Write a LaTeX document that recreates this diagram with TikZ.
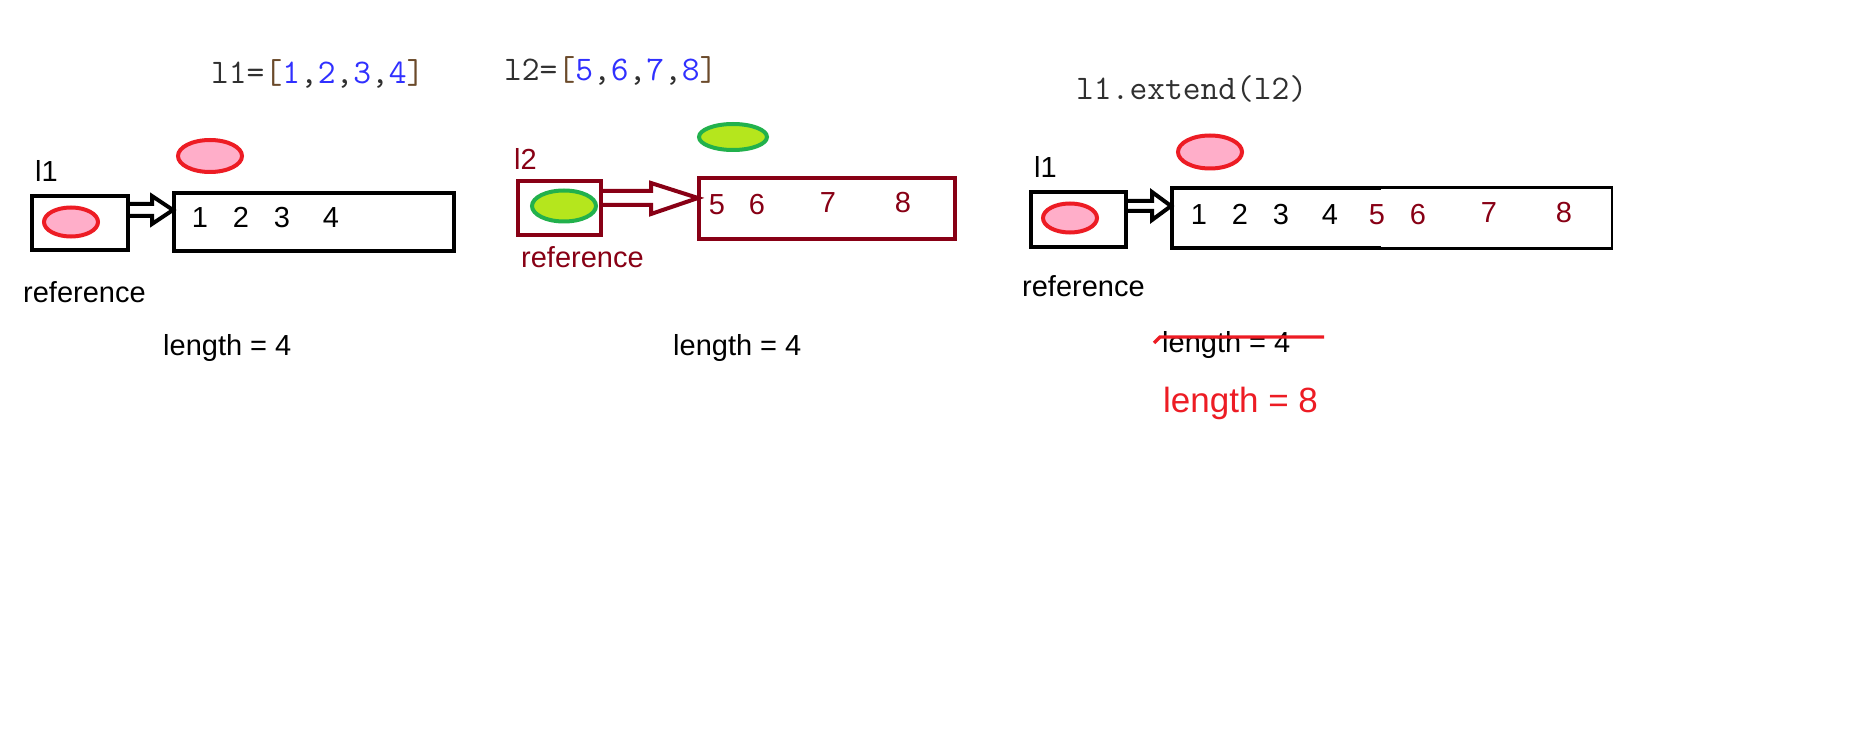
\documentclass[tikz,border=0pt]{standalone}
\usepackage{fontspec}
\setmainfont{Liberation Sans}
\usetikzlibrary{shapes.geometric}
\definecolor{dred}{HTML}{880015}
\definecolor{pred}{HTML}{ED1C24}
\definecolor{ppink}{HTML}{FFAEC9}
\definecolor{plime}{HTML}{B5E61D}
\definecolor{pgreen}{HTML}{22B14C}
\definecolor{cblue}{HTML}{3030FF}
\definecolor{cdark}{HTML}{303030}
\definecolor{cbrown}{HTML}{6B4A2A}
\tikzset{
  txt/.style={inner sep=0pt, anchor=base west, font=\fontsize{29}{29}\selectfont},
  dig/.style={inner sep=0pt, anchor=base, font=\fontsize{29}{29}\selectfont},
  code/.style={inner sep=0pt, anchor=base west, font=\ttfamily\fontsize{34.5}{34.5}\selectfont, text=cdark},
  refbox/.style={draw, line width=4pt, inner sep=0pt},
  pinkobj/.style={ellipse, draw=pred, fill=ppink, line width=4pt, inner sep=0pt},
  greenobj/.style={ellipse, draw=pgreen, fill=plime, line width=4pt, inner sep=0pt},
  blockarrow/.style={draw, line width=4pt, line join=miter, fill=white}
}
\begin{document}
\begin{tikzpicture}[x=1pt,y=-1pt]
\useasboundingbox[fill=white] (0,0) rectangle (1852,743);

% ---------- panel 1 ----------
\node[code] (c1) at (211,84) {l1=\textcolor{cbrown}{[}\textcolor{cblue}{1},\textcolor{cblue}{2},\textcolor{cblue}{3},\textcolor{cblue}{4}\textcolor{cbrown}{]}};
\node[pinkobj, minimum width=64pt, minimum height=32pt] (o1) at (210,156) {};
\node[txt] (n1) at (35,182) {l1};
\node[refbox, minimum width=96pt, minimum height=54pt] (s1) at (80,223) {};
\node[pinkobj, minimum width=54pt, minimum height=29pt] (p1) at (71,222) {};
\node[refbox, minimum width=280pt, minimum height=58pt] (b1) at (314,222) {};
\coordinate (t1) at (173,210);
\draw[blockarrow] (s1.east |- 0,204) -- (152,204) -- (152,196) -- (t1) -- (152,224) -- (152,216) -- (s1.east |- 0,216);
\node[dig] (d11) at (200,228) {1};
\node[dig] (d12) at (241,228) {2};
\node[dig] (d13) at (282,228) {3};
\node[dig] (d14) at (331,228) {4};
\node[txt] (r1) at (23,302) {reference};
\node[txt] (len1) at (163,355) {length = 4};

% ---------- panel 2 ----------
\node[code] (c2) at (504,81) {l2=\textcolor{cbrown}{[}\textcolor{cblue}{5},\textcolor{cblue}{6},\textcolor{cblue}{7},\textcolor{cblue}{8}\textcolor{cbrown}{]}};
\node[greenobj, minimum width=68pt, minimum height=26pt] (o2) at (733,137) {};
\node[txt, text=dred] (n2) at (514,170) {l2};
\node[refbox, draw=dred, minimum width=83pt, minimum height=54pt] (s2) at (559.5,208) {};
\node[greenobj, minimum width=64pt, minimum height=31pt] (p2) at (564,206) {};
\node[refbox, draw=dred, line width=4.5pt, minimum width=256pt, minimum height=61pt] (b2) at (827,208.5) {};
\coordinate (t2) at (698,198);
\draw[blockarrow, draw=dred] (s2.east |- 0,191) -- (651,191) -- (651,183) -- (t2) -- (651,214) -- (651,205) -- (s2.east |- 0,205);
\node[dig, text=dred] (d25) at (717,215) {5};
\node[dig, text=dred] (d26) at (757,215) {6};
\node[dig, text=dred] (d27) at (828,213) {7};
\node[dig, text=dred] (d28) at (903,213) {8};
\node[txt, text=dred] (r2) at (521,268) {reference};
\node[txt] (len2) at (673,355) {length = 4};

% ---------- panel 3 ----------
\node[code] (c3) at (1076,100) {l1.extend(l2)};
\node[pinkobj, minimum width=64pt, minimum height=33pt] (o3) at (1210,152) {};
\node[txt] (n3) at (1034,178) {l1};
\node[refbox, minimum width=95pt, minimum height=55pt] (s3) at (1078.5,219.5) {};
\node[pinkobj, minimum width=54pt, minimum height=29pt] (p3) at (1070,218) {};
\coordinate (b3nw) at (1172,188);
\coordinate (b3sw) at (1172,248);
\coordinate (b3jt) at (1381,187.3);
\coordinate (b3jb) at (1381,248.6);
\coordinate (b3ne) at (1612,187.3);
\coordinate (b3se) at (1612,248.6);
\draw[line width=2.7pt, line join=miter] (b3jt) -- (b3ne) -- (b3se) -- (b3jb);
\draw[line width=4.3pt, line join=miter] (1381,188) -- (b3nw) -- (b3sw) -- (1381,248);
\coordinate (t3) at (1171,206);
\draw[blockarrow] (s3.east |- 0,201) -- (1152,201) -- (1152,192) -- (t3) -- (1152,220) -- (1152,211) -- (s3.east |- 0,211);
\node[dig] (d31) at (1199,225) {1};
\node[dig] (d32) at (1240,225) {2};
\node[dig] (d33) at (1281,225) {3};
\node[dig] (d34) at (1330,225) {4};
\node[dig, text=dred] (d35) at (1377,225) {5};
\node[dig, text=dred] (d36) at (1418,225) {6};
\node[dig, text=dred] (d37) at (1489,223) {7};
\node[dig, text=dred] (d38) at (1564,223) {8};
\node[txt] (r3) at (1022,297) {reference};
\node[txt] (len3) at (1162,352) {length = 4};
\coordinate (sk0) at (1154,343);
\coordinate (sk1) at (1160,337);
\coordinate (sk2) at (1324,337);
\draw[pred, line width=3.3pt] (sk0) -- (sk1) -- (sk2);
\node[txt, text=pred, font=\fontsize{35}{35}\selectfont] (len4) at (1163,412) {length = 8};
\end{tikzpicture}
\end{document}
